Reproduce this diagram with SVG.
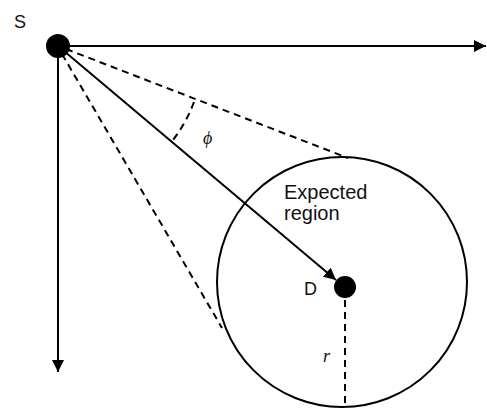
<svg xmlns="http://www.w3.org/2000/svg" width="487" height="412" viewBox="0 0 487 412">
<defs>
<style>
.solid{stroke:#000;stroke-width:2;fill:none}
.dash{stroke:#000;stroke-width:2;fill:none;stroke-dasharray:7,5}
.lbl{font-family:"Liberation Sans",Arial,sans-serif;font-size:18px;fill:#111}
.big{font-size:20px}
.it{font-family:"Liberation Serif","Times New Roman",serif;font-style:italic;font-size:18px;fill:#111}
</style>
<marker id="ah" viewBox="0 0 10 10" refX="10" refY="5" markerWidth="6" markerHeight="6" orient="auto" markerUnits="strokeWidth">
<path d="M0,0 L10,5 L0,10 z" fill="#000"/>
</marker>
</defs>
<rect width="487" height="412" fill="#fff"/>
<g id="connectors">
<line class="solid" x1="58" y1="46" x2="486" y2="46" marker-end="url(#ah)"/>
<line class="solid" x1="58" y1="46" x2="58" y2="372" marker-end="url(#ah)"/>
<line class="solid" x1="58" y1="46" x2="336" y2="280" marker-end="url(#ah)"/>
<line class="dash" x1="66" y1="49" x2="348" y2="158"/>
<line class="dash" x1="62" y1="54" x2="222" y2="328"/>
<path class="dash" d="M194,102 A147,147 0 0 1 173,140"/>
<line class="dash" x1="345" y1="300" x2="345" y2="407"/>
</g>
<g id="S">
<circle cx="58" cy="46" r="12" fill="#000"/>
<text class="lbl" x="14" y="28">S</text>
</g>
<g id="region">
<circle cx="342" cy="282" r="125" class="solid"/>
<text class="lbl big" x="284" y="199">Expected</text>
<text class="lbl big" x="284" y="220">region</text>
</g>
<g id="D">
<circle cx="345" cy="287" r="11" fill="#000"/>
<text class="lbl" x="304" y="295">D</text>
</g>
<text class="it" x="203" y="144">ϕ</text>
<text class="it" x="323" y="362">r</text>
</svg>
